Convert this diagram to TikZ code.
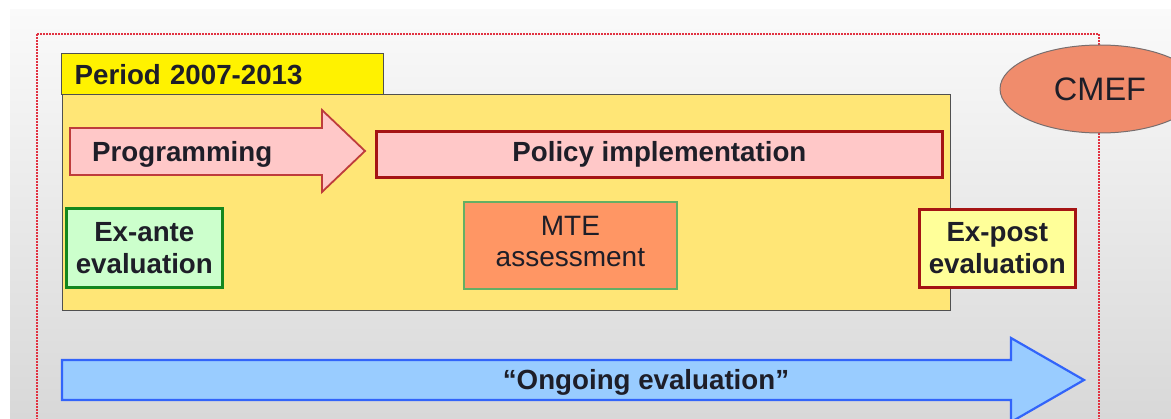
\documentclass[tikz,border=0pt]{standalone}
\usepackage{fontspec}
\setmainfont{Liberation Sans}
\usetikzlibrary{shapes.geometric}
\definecolor{txt}{RGB}{30,30,40}
\definecolor{bgtop}{RGB}{250,250,250}
\definecolor{bgbot}{RGB}{216,216,216}
\definecolor{dashred}{RGB}{225,50,65}
\definecolor{periodfill}{RGB}{255,230,118}
\definecolor{boxline}{RGB}{80,80,80}
\definecolor{pinkfill}{RGB}{255,200,200}
\definecolor{pinkline}{RGB}{190,60,60}
\definecolor{darkred}{RGB}{165,20,20}
\definecolor{greenfill}{RGB}{204,255,204}
\definecolor{greenline}{RGB}{20,135,30}
\definecolor{mtefill}{RGB}{255,150,100}
\definecolor{mteline}{RGB}{100,175,100}
\definecolor{postfill}{RGB}{255,255,153}
\definecolor{cmeffill}{RGB}{240,140,108}
\definecolor{cmefline}{RGB}{120,110,110}
\definecolor{bluefill}{RGB}{153,204,255}
\definecolor{blueline}{RGB}{50,100,250}
\tikzset{
  bold/.style={font=\fontsize{27.7}{32}\selectfont\bfseries, text=txt},
  reg/.style={font=\fontsize{28}{31}\selectfont, text=txt},
  rectbox/.style={draw, inner sep=0pt, anchor=north west},
  evalbox/.style={rectbox, line width=2.6pt, align=center, bold},
}
\begin{document}
\begin{tikzpicture}[x=1pt,y=-1pt]
\useasboundingbox (0,0) rectangle (1171,419);
\clip (0,0) rectangle (1171,419);
% background
\shade[top color=bgtop, bottom color=bgbot] (10,10) rectangle (1171,419);
% dashed frame
\draw[dashred, line width=2pt, dash pattern=on 2pt off 1pt] (37,34) rectangle (1099,440);
% period box
\node[rectbox, fill=periodfill, draw=boxline, line width=1.3pt, minimum width=888, minimum height=216] (period) at (62,94) {};
\node[rectbox, fill=yellow, draw=boxline, line width=1.3pt, minimum height=41, text width=296, inner xsep=13pt, align=left, bold] (title) at (61,53) {Period 2007-2013};
% programming arrow
\draw[fill=pinkfill, draw=pinkline, line width=1.8pt, line join=miter]
  (70,128) -- (322,128) -- (322,110) -- (365,151) -- (322,192) -- (322,175) -- (70,175) -- cycle;
\node[bold, anchor=west, inner sep=0pt] (prog) at (92,154) {Programming};
% policy implementation
\node[rectbox, fill=pinkfill, draw=darkred, line width=2.8pt, minimum width=566, minimum height=46, bold] (policy) at (375,130) {Policy implementation};
% ex-ante
\node[evalbox, fill=greenfill, draw=greenline, minimum width=156, minimum height=79] (exante) at (65,207) {Ex-ante\\evaluation};
% MTE
\node[rectbox, fill=mtefill, draw=mteline, line width=1.8pt, minimum width=213, minimum height=87] (mte) at (463,201) {};
\node[align=center, reg, inner sep=0pt] (mtetxt) at ([yshift=4pt]mte.center) {MTE\\assessment};
% ex-post
\node[evalbox, fill=postfill, draw=darkred, minimum width=156, minimum height=78] (expost) at (918,208) {Ex-post\\evaluation};
% CMEF
\node[ellipse, fill=cmeffill, draw=cmefline, line width=1pt, minimum width=200, minimum height=88, font=\fontsize{32.5}{36}\selectfont, text=txt] (cmef) at (1100,89) {CMEF};
% ongoing evaluation arrow
\draw[fill=bluefill, draw=blueline, line width=2.2pt, line join=miter]
  (62,360) -- (1011,360) -- (1011,338) -- (1084,380) -- (1011,422) -- (1011,400) -- (62,400) -- cycle;
\node[bold, inner sep=0pt] (ongoing) at (646,382) {“Ongoing evaluation”};
\end{tikzpicture}
\end{document}
